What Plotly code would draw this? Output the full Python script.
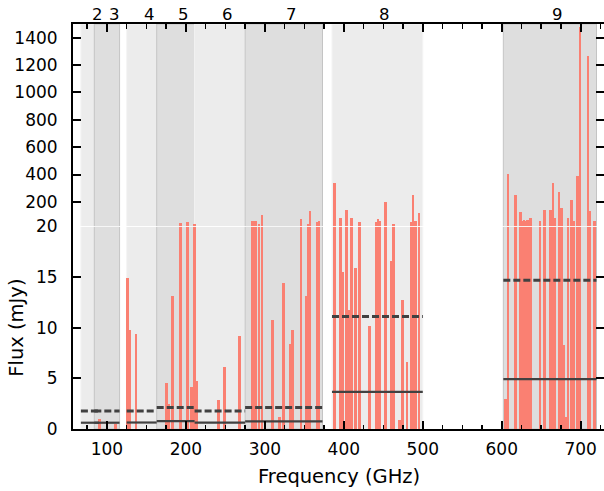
import plotly.graph_objects as go

# ALMA bands
band_names = ["2", "3", "4", "5", "6", "7", "8", "9"]
band_lo = [67, 84, 125, 163, 211, 275, 385, 602]
band_hi = [90, 116, 163, 211, 275, 373, 500, 720]
band_dark = [False, True, False, True, False, True, False, True]

# sensitivity levels per band (mJy)
dashed_level = [1.78, 1.78, 1.78, 2.12, 1.78, 2.12, 11.1, 14.7]
solid_level = [0.62, 0.62, 0.64, 0.78, 0.62, 0.76, 3.66, 4.92]

# line fluxes
line_freq = [
    90.5, 110.6,
    126.2, 128.3, 136.8,
    175.6, 178.2, 183.2, 193.0, 202.2, 207.3, 211.1, 213.2,
    241.5, 249.1, 267.7,
    284.0, 286.5, 288.6, 292.3, 296.5, 309.5, 318.3, 323.4, 331.8, 334.8,
    346.0, 351.8, 355.5, 357.0, 366.0, 368.8,
    388.4, 395.6, 398.1, 403.2, 406.6, 410.0, 415.0, 420.1, 432.7,
    441.0, 443.2, 445.3, 452.6, 460.2, 463.2, 470.7, 474.1, 480.0,
    485.5, 487.6, 490.6, 495.3,
    605.0, 607.9, 617.2, 624.0, 626.2, 628.4, 630.6, 632.8, 634.8, 636.5,
    648.5, 654.4, 661.8, 665.2, 667.3, 672.5, 675.5, 678.3, 682.0, 684.2,
    688.2, 691.6, 695.6, 698.8, 709.3, 711.4, 717.7,
]
line_flux = [
    1.0, 0.5,
    14.9, 9.8, 9.4,
    4.5, 2.5, 13.1, 45, 55, 4.1, 36, 4.7,
    2.9, 6.1, 9.2,
    58, 58, 58, 38, 104, 10.8, 1.2, 14.4, 8.4, 9.8,
    75, 13.1, 40, 133, 52, 58,
    340, 80, 15.5, 142, 11.8, 82, 15.9, 50, 10.2,
    55, 75, 60, 200, 16.6, 40, 0.9, 12.7, 6.6,
    50, 249, 62, 122,
    3.0, 402, 249, 123, 62, 65, 62, 68, 58, 80,
    60, 142, 142, 341, 80, 269, 155, 8.3, 1.2, 80,
    215, 60, 390, 1480, 1267, 135, 60,
]

x_tick_vals = [100, 200, 300, 400, 500, 600, 700]
y_low_ticks = [0, 5, 10, 15, 20]
y_high_ticks = [200, 400, 600, 800, 1000, 1200, 1400]

FONT = "DejaVu Sans"
SALMON = "#FA8072"
LINEC = "#414141"
XR = [57, 729.5]
LOW_R = [0, 20]
HIGH_R = [20, 1500]

fig = go.Figure()

for ax in ["y", "y2"]:
    fig.add_trace(go.Bar(
        x=line_freq, y=line_flux, width=3.2,
        marker=dict(color=SALMON, line=dict(width=0)),
        xaxis="x" if ax == "y" else "x2", yaxis=ax, showlegend=False,
    ))

# sensitivity lines
dx, dy, sx, sy = [], [], [], []
for lo, hi, d, s in zip(band_lo, band_hi, dashed_level, solid_level):
    dx += [lo, hi, None]
    dy += [d, d, None]
    sx += [lo, hi, None]
    sy += [s, s, None]
fig.add_trace(go.Scatter(x=sx, y=sy, mode="lines",
                         line=dict(color=LINEC, width=2.2), xaxis="x", yaxis="y",
                         showlegend=False))
fig.add_trace(go.Scatter(x=dx, y=dy, mode="lines",
                         line=dict(color=LINEC, width=3, dash="7px,3px"),
                         xaxis="x", yaxis="y", showlegend=False))

# dummy traces for right-side tick axes
fig.add_trace(go.Scatter(x=[None], y=[None], xaxis="x", yaxis="y3", showlegend=False))
fig.add_trace(go.Scatter(x=[None], y=[None], xaxis="x2", yaxis="y4", showlegend=False))

shapes = []
for lo, hi, dark in zip(band_lo, band_hi, band_dark):
    for yr in ["y domain", "y2 domain"]:
        shapes.append(dict(
            type="rect", xref="x", yref=yr, x0=lo, x1=hi, y0=0, y1=1,
            fillcolor="#DEDEDE" if dark else "#ECECEC",
            line=dict(color="#C4C4C4" if dark else "#F4F4F4", width=1),
            layer="below",
        ))
shapes.append(dict(type="line", xref="x domain", yref="paper", x0=0.004, x1=1,
                   y0=0.5, y1=0.5, line=dict(color="rgba(255,255,255,0.85)", width=1),
                   layer="above"))

annotations = []
for name, lo, hi in zip(band_names, band_lo, band_hi):
    annotations.append(dict(text=name, x=(lo + hi) / 2, xref="x", y=1, yref="paper",
                            xanchor="left", yanchor="bottom", yshift=-1.5, showarrow=False,
                            font=dict(family=FONT, size=16.5, color="black")))
annotations.append(dict(text="Frequency (GHz)", x=0.5, xref="paper", y=0, yref="paper",
                        xanchor="center", yanchor="middle", yshift=-47, showarrow=False,
                        font=dict(family=FONT, size=19.5, color="black")))
annotations.append(dict(text="Flux (mJy)", x=0, xref="paper", y=0.25, yref="paper",
                        xanchor="center", yanchor="middle", xshift=-56, textangle=-90,
                        showarrow=False, font=dict(family=FONT, size=19.5, color="black")))

tickfont = dict(family=FONT, size=17, color="black")
minor = dict(dtick=25, ticks="inside", ticklen=4.5, tickwidth=1.5, tickcolor="black")
common = dict(showgrid=False, zeroline=False, automargin=False)

fig.update_layout(
    width=604, height=491,
    margin=dict(l=73, r=0, t=24, b=62, autoexpand=False),
    paper_bgcolor="white", plot_bgcolor="white",
    bargap=0, barmode="overlay", hovermode=False,
    shapes=shapes, annotations=annotations,
    xaxis=dict(domain=[0, 1], anchor="y", range=XR, tickvals=x_tick_vals,
               ticks="inside", ticklen=8, tickwidth=2, tickcolor="black",
               minor=minor, showline=True, linecolor="black", linewidth=2,
               tickfont=tickfont, ticklabelstandoff=4, **common),
    xaxis2=dict(domain=[0, 1], anchor="y2", side="top", range=XR, tickvals=x_tick_vals,
                ticks="inside", ticklen=8, tickwidth=2, tickcolor="black",
                minor=minor, showline=True, linecolor="black", linewidth=2,
                showticklabels=False, **common),
    yaxis=dict(domain=[0, 0.5], anchor="x", range=LOW_R, tickvals=y_low_ticks,
               ticks="inside", ticklen=8, tickwidth=2, tickcolor="black",
               showline=True, linecolor="black", linewidth=2,
               tickfont=tickfont, ticklabelstandoff=10, **common),
    yaxis2=dict(domain=[0.5, 1], anchor="x2", range=HIGH_R, tickvals=y_high_ticks,
                ticks="inside", ticklen=8, tickwidth=2, tickcolor="black",
                showline=True, linecolor="black", linewidth=2,
                tickfont=tickfont, ticklabelstandoff=10, **common),
    yaxis3=dict(overlaying="y", anchor="x", side="right", range=LOW_R,
                tickvals=y_low_ticks, ticks="inside", ticklen=8, tickwidth=2,
                tickcolor="black", showline=False, showticklabels=False, **common),
    yaxis4=dict(overlaying="y2", anchor="x2", side="right", range=HIGH_R,
                tickvals=y_high_ticks, ticks="inside", ticklen=8, tickwidth=2,
                tickcolor="black", showline=False, showticklabels=False, **common),
)

# remove the default 8px page margin so the figure fills the window exactly
fig.write_html("out.html",
               config={"displayModeBar": False, "staticPlot": True},
               post_script="document.body.style.margin='0px';document.body.style.overflow='hidden';")
